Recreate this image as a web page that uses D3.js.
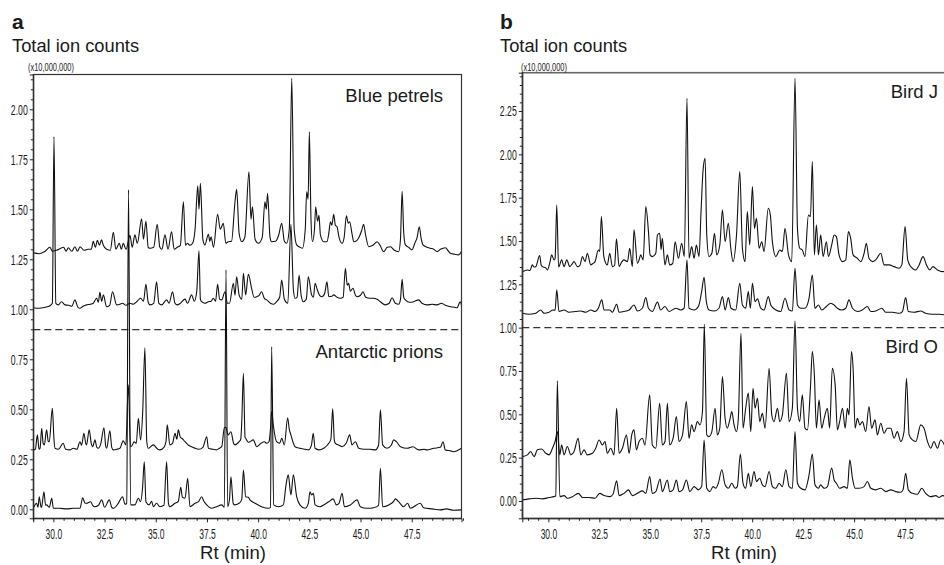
<!DOCTYPE html>
<html>
<head>
<meta charset="utf-8">
<script src="https://cdn.jsdelivr.net/npm/d3@7"></script>
<style>
  html, body { margin: 0; padding: 0; background: #fff; }
  svg { display: block; }
  .lbl { font-family: "Liberation Sans", Arial, sans-serif; fill: #1a1a1a; }
  .tick text { font-family: "Liberation Sans", Arial, sans-serif; font-size: 15px; fill: #1a1a1a; }
</style>
</head>
<body>
<svg id="chart" width="944" height="565"></svg>
<script>
// Retention time (min) / total ion counts (x10,000,000)

const bluePetrelUpper = [[29.02,1.282],[29.3,1.278],[29.6,1.29],[29.83,1.31],[29.95,1.29],[30.15,1.295],[30.5,1.31],[30.62,1.29],[30.73,1.308],[30.9,1.29],[31.05,1.313],[31.18,1.29],[31.3,1.313],[31.5,1.295],[31.7,1.3],[31.85,1.3],[31.95,1.34],[32.05,1.31],[32.15,1.345],[32.25,1.32],[32.35,1.347],[32.44,1.32],[32.6,1.3],[32.78,1.295],[32.93,1.385],[33.05,1.3],[33.22,1.33],[33.32,1.3],[33.41,1.33],[33.55,1.3],[33.74,1.37],[33.85,1.31],[33.98,1.372],[34.1,1.33],[34.31,1.452],[34.4,1.35],[34.52,1.44],[34.63,1.31],[34.72,1.305],[34.9,1.31],[35.07,1.425],[35.2,1.31],[35.3,1.3],[35.45,1.372],[35.6,1.3],[35.77,1.388],[35.9,1.3],[36.05,1.31],[36.2,1.32],[36.35,1.538],[36.45,1.32],[36.55,1.33],[36.67,1.32],[36.8,1.33],[36.92,1.4],[37.05,1.618],[37.11,1.5],[37.18,1.63],[37.3,1.35],[37.4,1.322],[37.57,1.375],[37.64,1.34],[37.7,1.363],[37.82,1.31],[38.02,1.475],[38.15,1.4],[38.3,1.43],[38.42,1.33],[38.54,1.338],[38.7,1.34],[38.87,1.538],[38.95,1.6],[39.07,1.38],[39.2,1.338],[39.35,1.36],[39.55,1.688],[39.65,1.45],[39.72,1.513],[39.85,1.35],[40.01,1.33],[40.2,1.36],[40.33,1.538],[40.4,1.5],[40.46,1.58],[40.58,1.36],[40.66,1.338],[40.85,1.34],[41.0,1.37],[41.15,1.43],[41.28,1.34],[41.39,1.33],[41.52,1.4],[41.64,2.155],[41.76,1.4],[41.88,1.322],[42.05,1.31],[42.16,1.305],[42.3,1.4],[42.37,1.588],[42.44,1.55],[42.5,1.888],[42.58,1.45],[42.65,1.338],[42.75,1.4],[42.81,1.513],[42.9,1.44],[42.97,1.47],[43.04,1.372],[43.2,1.338],[43.36,1.338],[43.45,1.38],[43.53,1.438],[43.6,1.42],[43.69,1.475],[43.77,1.42],[43.85,1.413],[43.95,1.36],[44.1,1.33],[44.2,1.36],[44.31,1.468],[44.4,1.43],[44.47,1.438],[44.58,1.38],[44.67,1.338],[44.83,1.345],[44.99,1.375],[45.07,1.4],[45.15,1.425],[45.25,1.37],[45.4,1.313],[45.6,1.32],[45.81,1.338],[45.95,1.32],[46.13,1.288],[46.3,1.31],[46.46,1.313],[46.65,1.295],[46.86,1.288],[46.95,1.35],[47.03,1.59],[47.11,1.38],[47.19,1.322],[47.35,1.31],[47.51,1.297],[47.65,1.33],[47.76,1.358],[47.87,1.413],[47.95,1.36],[48.05,1.322],[48.25,1.31],[48.41,1.305],[48.57,1.3],[48.74,1.288],[48.9,1.3],[49.14,1.308],[49.3,1.29],[49.39,1.28],[49.6,1.275],[49.79,1.272],[49.93,1.29]]

const bluePetrelLower = [[29.02,1.008],[29.3,1.005],[29.6,1.01],[29.83,1.018],[29.95,1.03],[30.03,1.863],[30.12,1.03],[30.24,1.022],[30.4,1.038],[30.57,1.022],[30.75,1.02],[30.9,1.015],[31.05,1.047],[31.2,1.01],[31.3,1.005],[31.45,1.015],[31.62,1.022],[31.8,1.025],[31.95,1.03],[32.11,1.055],[32.2,1.035],[32.27,1.085],[32.36,1.04],[32.44,1.072],[32.6,1.013],[32.75,1.02],[32.89,1.088],[33.09,1.022],[33.25,1.025],[33.38,1.03],[33.55,1.02],[33.74,1.03],[33.9,1.025],[34.07,1.038],[34.26,1.055],[34.4,1.04],[34.52,1.125],[34.63,1.035],[34.72,1.022],[34.9,1.03],[35.04,1.138],[35.15,1.03],[35.29,1.022],[35.53,1.047],[35.65,1.03],[35.82,1.088],[35.94,1.03],[36.05,1.022],[36.2,1.03],[36.43,1.051],[36.55,1.03],[36.75,1.072],[36.88,1.04],[37.0,1.088],[37.11,1.292],[37.18,1.05],[37.24,1.038],[37.4,1.03],[37.57,1.038],[37.7,1.04],[37.81,1.055],[37.92,1.04],[38.02,1.125],[38.12,1.05],[38.22,1.047],[38.38,1.088],[38.5,1.03],[38.6,1.03],[38.79,1.13],[38.87,1.07],[38.95,1.163],[39.07,1.072],[39.2,1.05],[39.28,1.18],[39.39,1.072],[39.52,1.175],[39.68,1.105],[39.8,1.06],[39.93,1.063],[40.05,1.07],[40.17,1.088],[40.3,1.055],[40.42,1.047],[40.6,1.03],[40.76,1.025],[40.9,1.038],[41.05,1.06],[41.15,1.146],[41.28,1.05],[41.45,1.03],[41.6,1.425],[41.72,1.1],[41.8,1.055],[41.9,1.06],[42.0,1.17],[42.1,1.07],[42.21,1.038],[42.35,1.05],[42.45,1.163],[42.61,1.072],[42.7,1.06],[42.78,1.13],[42.88,1.1],[43.0,1.07],[43.12,1.063],[43.25,1.08],[43.36,1.138],[43.45,1.063],[43.6,1.065],[43.69,1.072],[43.85,1.06],[44.02,1.055],[44.15,1.06],[44.26,1.205],[44.35,1.12],[44.42,1.13],[44.5,1.09],[44.63,1.105],[44.75,1.07],[44.83,1.063],[45.0,1.07],[45.12,1.088],[45.25,1.06],[45.45,1.055],[45.64,1.055],[45.8,1.05],[45.97,1.038],[46.2,1.022],[46.4,1.03],[46.54,1.058],[46.7,1.03],[46.86,1.025],[46.95,1.05],[47.03,1.15],[47.11,1.06],[47.19,1.047],[47.4,1.035],[47.6,1.038],[47.84,1.047],[48.0,1.03],[48.25,1.022],[48.5,1.025],[48.74,1.022],[48.95,1.03],[49.14,1.02],[49.39,1.013],[49.6,1.01],[49.71,1.008],[49.87,1.038],[49.93,1.02]]

const prionUpper = [[29.02,0.297],[29.12,0.3],[29.22,0.372],[29.3,0.3],[29.35,0.305],[29.43,0.405],[29.5,0.33],[29.56,0.322],[29.67,0.397],[29.75,0.34],[29.8,0.338],[29.95,0.505],[30.03,0.35],[30.08,0.305],[30.25,0.3],[30.48,0.33],[30.6,0.3],[30.8,0.297],[30.97,0.305],[31.15,0.3],[31.3,0.338],[31.38,0.32],[31.49,0.38],[31.58,0.33],[31.62,0.322],[31.75,0.397],[31.85,0.33],[31.92,0.313],[32.03,0.347],[32.12,0.31],[32.19,0.305],[32.32,0.33],[32.47,0.408],[32.55,0.32],[32.6,0.305],[32.76,0.392],[32.85,0.31],[32.93,0.297],[33.09,0.3],[33.25,0.305],[33.41,0.342],[33.54,0.322],[33.66,0.622],[33.77,0.313],[33.85,0.32],[33.94,0.338],[34.05,0.33],[34.15,0.455],[34.26,0.347],[34.36,0.48],[34.47,0.808],[34.56,0.34],[34.63,0.305],[34.88,0.322],[35.1,0.3],[35.2,0.297],[35.4,0.31],[35.5,0.338],[35.56,0.422],[35.69,0.322],[35.82,0.33],[35.94,0.38],[36.03,0.35],[36.1,0.397],[36.2,0.36],[36.27,0.355],[36.43,0.338],[36.6,0.32],[36.75,0.313],[36.92,0.305],[37.1,0.3],[37.3,0.31],[37.49,0.363],[37.57,0.305],[37.8,0.3],[37.97,0.297],[38.1,0.305],[38.22,0.313],[38.35,0.408],[38.43,0.41],[38.5,0.38],[38.54,0.372],[38.67,0.388],[38.8,0.33],[38.87,0.322],[39.07,0.338],[39.15,0.35],[39.2,0.438],[39.28,0.68],[39.36,0.36],[39.39,0.355],[39.52,0.335],[39.6,0.338],[39.76,0.347],[39.93,0.313],[40.14,0.33],[40.3,0.338],[40.42,0.33],[40.53,0.338],[40.6,0.4],[40.66,0.49],[40.74,0.42],[40.9,0.338],[41.05,0.33],[41.15,0.355],[41.28,0.322],[41.44,0.458],[41.52,0.4],[41.6,0.372],[41.72,0.33],[41.8,0.313],[42.04,0.305],[42.3,0.3],[42.45,0.297],[42.6,0.32],[42.69,0.38],[42.78,0.305],[42.97,0.297],[43.2,0.305],[43.45,0.33],[43.55,0.35],[43.64,0.502],[43.72,0.345],[43.77,0.33],[43.95,0.32],[44.1,0.313],[44.3,0.33],[44.47,0.372],[44.58,0.322],[44.75,0.338],[44.91,0.305],[45.2,0.3],[45.45,0.3],[45.72,0.297],[45.88,0.32],[45.97,0.497],[46.08,0.322],[46.29,0.305],[46.5,0.32],[46.62,0.347],[46.75,0.338],[46.95,0.313],[47.27,0.305],[47.56,0.313],[47.84,0.297],[48.1,0.3],[48.25,0.297],[48.57,0.305],[48.9,0.31],[49.03,0.338],[49.14,0.297],[49.4,0.292],[49.55,0.288],[49.75,0.295],[49.93,0.305]]

const prionLower = [[29.02,0.005],[29.18,0.03],[29.25,0.01],[29.31,0.063],[29.4,0.01],[29.43,0.013],[29.54,0.088],[29.62,0.02],[29.67,0.022],[29.8,0.01],[29.92,0.055],[30.0,0.005],[30.3,0.005],[30.65,0.002],[30.97,0.005],[31.3,0.005],[31.43,0.058],[31.55,0.03],[31.62,0.03],[31.82,0.038],[31.92,0.02],[32.03,0.013],[32.2,0.02],[32.36,0.047],[32.5,0.01],[32.73,0.047],[32.85,0.01],[32.93,0.005],[33.17,0.03],[33.38,0.063],[33.5,0.025],[33.58,0.03],[33.67,1.597],[33.77,0.022],[33.98,0.022],[34.15,0.055],[34.26,0.038],[34.35,0.1],[34.44,0.238],[34.52,0.038],[34.68,0.022],[34.8,0.04],[34.88,0.013],[35.04,0.03],[35.2,0.013],[35.4,0.02],[35.53,0.238],[35.62,0.03],[35.69,0.013],[35.94,0.03],[36.1,0.04],[36.22,0.11],[36.3,0.06],[36.43,0.055],[36.56,0.155],[36.67,0.013],[36.92,0.03],[37.1,0.04],[37.24,0.063],[37.35,0.04],[37.49,0.022],[37.73,0.005],[37.97,0.013],[38.22,0.022],[38.35,0.01],[38.43,1.197],[38.51,0.013],[38.6,0.05],[38.67,0.163],[38.78,0.03],[38.84,0.022],[39.07,0.03],[39.2,0.05],[39.28,0.196],[39.39,0.063],[39.52,0.06],[39.6,0.047],[39.85,0.03],[40.17,0.013],[40.5,0.005],[40.6,0.01],[40.66,0.813],[40.76,0.022],[40.99,0.013],[41.23,0.022],[41.36,0.121],[41.47,0.172],[41.6,0.072],[41.72,0.172],[41.88,0.063],[42.04,0.022],[42.29,0.005],[42.45,0.03],[42.53,0.088],[42.61,0.072],[42.7,0.08],[42.78,0.022],[43.02,0.013],[43.2,0.022],[43.45,0.038],[43.66,0.052],[43.82,0.022],[43.95,0.03],[44.1,0.08],[44.21,0.013],[44.5,0.022],[44.83,0.047],[44.99,0.013],[45.32,0.005],[45.64,0.008],[45.88,0.02],[45.97,0.205],[46.08,0.013],[46.38,0.022],[46.62,0.04],[46.7,0.052],[46.86,0.038],[47.1,0.013],[47.3,0.03],[47.43,0.005],[47.92,0.03],[48.08,0.008],[48.5,0.002],[48.9,-0.003],[49.2,0.002],[49.55,-0.005],[49.93,-0.003]]

const birdJUpper = [[28.72,1.323],[28.97,1.333],[29.1,1.33],[29.21,1.362],[29.3,1.35],[29.38,1.352],[29.57,1.416],[29.65,1.36],[29.71,1.352],[29.87,1.345],[29.95,1.333],[30.08,1.38],[30.16,1.42],[30.28,1.39],[30.33,1.4],[30.41,1.708],[30.5,1.35],[30.52,1.352],[30.65,1.391],[30.77,1.352],[30.9,1.391],[31.05,1.352],[31.18,1.37],[31.26,1.381],[31.42,1.352],[31.55,1.36],[31.67,1.41],[31.8,1.381],[31.91,1.429],[32.08,1.362],[32.18,1.37],[32.29,1.381],[32.45,1.448],[32.52,1.44],[32.6,1.641],[32.72,1.41],[32.89,1.362],[33.01,1.429],[33.14,1.352],[33.25,1.36],[33.34,1.512],[33.47,1.352],[33.6,1.38],[33.71,1.391],[33.88,1.381],[33.99,1.458],[34.12,1.352],[34.2,1.564],[34.37,1.371],[34.45,1.39],[34.53,1.42],[34.65,1.391],[34.78,1.698],[34.91,1.554],[34.99,1.42],[35.1,1.41],[35.27,1.429],[35.35,1.535],[35.46,1.545],[35.53,1.45],[35.59,1.516],[35.72,1.362],[35.84,1.42],[35.95,1.362],[36.1,1.37],[36.22,1.496],[36.38,1.4],[36.54,1.487],[36.67,1.41],[36.8,2.323],[36.9,1.4],[37.03,1.468],[37.15,1.4],[37.26,1.477],[37.39,1.41],[37.49,1.67],[37.59,1.91],[37.69,1.977],[37.77,1.535],[37.88,1.41],[38.02,1.429],[38.15,1.545],[38.26,1.42],[38.41,1.477],[38.54,1.679],[38.67,1.496],[38.83,1.602],[38.95,1.458],[39.06,1.381],[39.23,1.535],[39.39,1.9],[39.52,1.458],[39.65,1.381],[39.76,1.67],[39.88,1.477],[40.01,1.814],[40.11,1.573],[40.21,1.631],[40.34,1.458],[40.47,1.496],[40.58,1.439],[40.79,1.689],[40.89,1.65],[40.99,1.496],[41.16,1.41],[41.35,1.448],[41.48,1.439],[41.61,1.573],[41.78,1.42],[41.94,1.381],[42.1,2.439],[42.22,1.573],[42.33,1.458],[42.46,1.448],[42.59,1.41],[42.76,1.65],[42.86,1.641],[42.95,1.958],[43.05,1.42],[43.15,1.593],[43.25,1.42],[43.36,1.535],[43.48,1.41],[43.64,1.496],[43.74,1.41],[43.9,1.477],[44.02,1.535],[44.13,1.525],[44.26,1.42],[44.43,1.381],[44.59,1.391],[44.72,1.554],[44.83,1.516],[44.95,1.42],[45.16,1.4],[45.33,1.381],[45.49,1.429],[45.6,1.487],[45.73,1.4],[45.9,1.381],[46.06,1.391],[46.31,1.429],[46.47,1.362],[46.72,1.362],[46.96,1.352],[47.21,1.343],[47.34,1.362],[47.5,1.583],[47.63,1.391],[47.78,1.352],[48.03,1.333],[48.19,1.362],[48.38,1.41],[48.55,1.362],[48.71,1.333],[48.87,1.352],[49.09,1.333],[49.33,1.323],[49.5,1.327]]

const birdJLower = [[28.72,1.083],[29.05,1.077],[29.38,1.083],[29.62,1.102],[29.79,1.083],[30.03,1.089],[30.23,1.102],[30.33,1.1],[30.41,1.218],[30.52,1.093],[30.77,1.102],[31.01,1.089],[31.34,1.093],[31.59,1.096],[31.83,1.089],[32.08,1.102],[32.29,1.093],[32.45,1.112],[32.62,1.16],[32.73,1.102],[33.01,1.102],[33.14,1.089],[33.35,1.135],[33.47,1.089],[33.71,1.093],[33.96,1.102],[34.2,1.131],[34.37,1.096],[34.61,1.112],[34.78,1.173],[34.91,1.112],[35.1,1.093],[35.35,1.147],[35.51,1.102],[35.72,1.122],[35.92,1.093],[36.25,1.112],[36.49,1.102],[36.66,1.112],[36.8,1.391],[36.9,1.112],[37.15,1.102],[37.36,1.122],[37.52,1.208],[37.64,1.291],[37.75,1.15],[37.88,1.102],[38.13,1.096],[38.37,1.112],[38.54,1.179],[38.67,1.102],[38.83,1.173],[38.96,1.112],[39.19,1.102],[39.39,1.256],[39.52,1.131],[39.68,1.112],[39.81,1.208],[39.91,1.112],[40.01,1.256],[40.14,1.15],[40.26,1.166],[40.42,1.112],[40.58,1.102],[40.79,1.179],[40.91,1.131],[41.16,1.102],[41.4,1.093],[41.61,1.17],[41.81,1.102],[41.97,1.096],[42.1,1.343],[42.22,1.131],[42.38,1.112],[42.59,1.112],[42.79,1.17],[42.95,1.304],[43.08,1.112],[43.25,1.131],[43.41,1.102],[43.64,1.122],[43.85,1.141],[44.02,1.131],[44.18,1.112],[44.39,1.102],[44.59,1.112],[44.75,1.16],[44.92,1.112],[45.16,1.093],[45.4,1.102],[45.65,1.122],[45.82,1.093],[46.06,1.096],[46.36,1.112],[46.55,1.089],[46.88,1.089],[47.21,1.083],[47.37,1.093],[47.53,1.173],[47.66,1.093],[47.94,1.089],[48.27,1.096],[48.51,1.083],[48.84,1.077],[49.17,1.077],[49.5,1.073]]

const birdOUpper = [[28.72,0.256],[28.97,0.266],[29.13,0.285],[29.3,0.256],[29.46,0.295],[29.67,0.3],[29.87,0.275],[30.03,0.266],[30.2,0.304],[30.33,0.343],[30.44,0.4],[30.56,0.266],[30.65,0.323],[30.77,0.266],[30.93,0.314],[31.1,0.266],[31.26,0.285],[31.46,0.362],[31.59,0.266],[31.75,0.295],[31.91,0.266],[32.16,0.275],[32.32,0.304],[32.49,0.352],[32.65,0.323],[32.78,0.343],[32.89,0.275],[33.06,0.304],[33.22,0.266],[33.35,0.535],[33.47,0.275],[33.63,0.304],[33.83,0.381],[33.96,0.275],[34.09,0.381],[34.2,0.41],[34.32,0.295],[34.45,0.343],[34.61,0.362],[34.74,0.323],[34.97,0.612],[35.1,0.323],[35.27,0.304],[35.46,0.564],[35.59,0.323],[35.72,0.343],[35.84,0.564],[35.95,0.323],[36.12,0.362],[36.28,0.487],[36.41,0.343],[36.58,0.381],[36.77,0.573],[36.9,0.362],[37.03,0.439],[37.15,0.4],[37.31,0.458],[37.44,0.439],[37.56,0.516],[37.65,1.02],[37.77,0.381],[37.88,0.371],[38.02,0.4],[38.18,0.535],[38.29,0.381],[38.41,0.42],[38.54,0.718],[38.67,0.477],[38.78,0.42],[38.9,0.468],[39.0,0.516],[39.11,0.439],[39.23,0.4],[39.32,0.477],[39.45,0.968],[39.55,0.42],[39.68,0.535],[39.81,0.622],[39.93,0.4],[40.04,0.65],[40.14,0.535],[40.26,0.593],[40.37,0.458],[40.5,0.506],[40.63,0.42],[40.83,0.766],[40.96,0.496],[41.07,0.458],[41.24,0.535],[41.35,0.458],[41.48,0.496],[41.68,0.737],[41.81,0.458],[41.97,0.535],[42.1,1.04],[42.22,0.535],[42.33,0.458],[42.46,0.612],[42.59,0.42],[42.71,0.41],[42.86,0.66],[42.95,0.862],[43.05,0.727],[43.15,0.42],[43.28,0.583],[43.41,0.42],[43.53,0.477],[43.69,0.535],[43.8,0.42],[43.93,0.766],[44.07,0.67],[44.18,0.41],[44.29,0.458],[44.43,0.535],[44.56,0.42],[44.67,0.535],[44.75,0.496],[44.87,0.862],[44.95,0.766],[45.05,0.42],[45.16,0.477],[45.28,0.439],[45.41,0.458],[45.57,0.4],[45.73,0.545],[45.86,0.42],[46.03,0.468],[46.14,0.381],[46.31,0.448],[46.47,0.391],[46.63,0.42],[46.8,0.42],[46.96,0.362],[47.12,0.4],[47.29,0.343],[47.45,0.4],[47.57,0.708],[47.7,0.381],[47.86,0.352],[48.03,0.343],[48.27,0.439],[48.43,0.42],[48.6,0.343],[48.76,0.304],[48.92,0.343],[49.09,0.304],[49.25,0.352],[49.5,0.304]]

const birdOLower = [[28.72,0.006],[29.05,0.012],[29.38,0.016],[29.71,0.012],[30.03,0.02],[30.28,0.025],[30.36,0.03],[30.44,0.693],[30.56,0.025],[30.77,0.031],[30.93,0.016],[31.18,0.025],[31.47,0.044],[31.67,0.02],[32.0,0.02],[32.29,0.016],[32.52,0.044],[32.73,0.031],[33.01,0.025],[33.17,0.039],[33.35,0.116],[33.47,0.031],[33.71,0.044],[33.93,0.064],[34.12,0.031],[34.37,0.044],[34.61,0.058],[34.78,0.044],[34.97,0.141],[35.1,0.044],[35.27,0.054],[35.48,0.127],[35.59,0.054],[35.84,0.121],[35.95,0.054],[36.12,0.064],[36.28,0.121],[36.41,0.054],[36.58,0.064],[36.77,0.121],[36.94,0.054],[37.15,0.083],[37.36,0.064],[37.52,0.083],[37.64,0.352],[37.77,0.073],[37.92,0.054],[38.08,0.083],[38.21,0.073],[38.34,0.102],[38.51,0.18],[38.67,0.093],[38.83,0.073],[39.0,0.102],[39.16,0.073],[39.27,0.083],[39.42,0.27],[39.55,0.102],[39.68,0.073],[39.81,0.16],[39.93,0.083],[40.09,0.17],[40.21,0.112],[40.37,0.131],[40.5,0.093],[40.63,0.083],[40.83,0.17],[40.99,0.083],[41.16,0.073],[41.32,0.102],[41.48,0.083],[41.65,0.18],[41.81,0.083],[41.97,0.073],[42.1,0.40],[42.22,0.102],[42.38,0.073],[42.59,0.064],[42.79,0.15],[42.95,0.27],[43.08,0.093],[43.25,0.073],[43.36,0.093],[43.53,0.073],[43.69,0.083],[43.9,0.19],[44.02,0.121],[44.13,0.102],[44.29,0.073],[44.51,0.083],[44.67,0.073],[44.79,0.237],[44.92,0.131],[45.05,0.073],[45.24,0.073],[45.49,0.083],[45.65,0.112],[45.82,0.073],[46.06,0.064],[46.31,0.073],[46.55,0.054],[46.8,0.064],[47.04,0.054],[47.29,0.05],[47.4,0.064],[47.53,0.16],[47.66,0.064],[47.86,0.044],[48.11,0.039],[48.32,0.073],[48.51,0.044],[48.76,0.025],[49.01,0.031],[49.17,0.02],[49.33,0.031],[49.5,0.025]]

const rtTicks = [30, 32.5, 35, 37.5, 40, 42.5, 45, 47.5]
const ticTicksA = [0, 0.25, 0.5, 0.75, 1.0, 1.25, 1.5, 1.75, 2.0]
const ticTicksB = [0, 0.25, 0.5, 0.75, 1.0, 1.25, 1.5, 1.75, 2.0, 2.25]
const panelLetters = ['a', 'b']
const groupNames = [['Blue petrels', 'Antarctic prions'], ['Bird J', 'Bird O']]
const dividerLevels = [0.898, 1.0]

const svg = d3.select('#chart')

const panels = [
  {
    letter: panelLetters[0], names: groupNames[0], divider: dividerLevels[0], yTicks: ticTicksA,
    traces: [bluePetrelUpper, bluePetrelLower, prionUpper, prionLower],
    x: d3.scaleLinear().domain([29.02, 49.93]).range([33.3, 461.5]),
    y: d3.scaleLinear().domain([-0.045, 2.174]).range([518.3, 74.5]),
    textX: 12, unitX: 28, nameRight: 443, titleX: 233
  },
  {
    letter: panelLetters[1], names: groupNames[1], divider: dividerLevels[1], yTicks: ticTicksB,
    traces: [birdJUpper, birdJLower, birdOUpper, birdOLower],
    x: d3.scaleLinear().domain([28.72, 49.7]).range([522.3, 949.9]),
    y: d3.scaleLinear().domain([-0.1, 2.471]).range([518.3, 72.7]),
    textX: 500, unitX: 521, nameRight: 938, titleX: 744
  }
]

// the condensed axis lettering of the original, squeezed from a regular face
function narrow (sel, w) {
  sel.selectAll('.tick text').attr('textLength', w).attr('lengthAdjust', 'spacingAndGlyphs')
}

panels.forEach((p, i) => {
  const [x0, x1] = p.x.range()
  const [yb, yt] = p.y.range()
  const g = svg.append('g')

  const clipId = 'clip' + i
  svg.append('clipPath').attr('id', clipId)
    .append('rect').attr('x', x0).attr('y', yt).attr('width', x1 - x0).attr('height', yb - yt)

  const line = d3.line().x(d => p.x(d[0])).y(d => p.y(d[1])).curve(d3.curveMonotoneX)

  const plot = g.append('g').attr('clip-path', `url(#${clipId})`)
  plot.append('line')
    .attr('x1', x0).attr('x2', x1)
    .attr('y1', p.y(p.divider)).attr('y2', p.y(p.divider))
    .attr('stroke', '#333').attr('stroke-width', 1.2).attr('stroke-dasharray', '7,4')

  plot.selectAll('path.trace').data(p.traces).join('path')
    .attr('class', 'trace')
    .attr('d', line)
    .attr('fill', 'none')
    .attr('stroke', '#111')
    .attr('stroke-width', 1.1)
    .attr('stroke-linejoin', 'round')

  // frame
  g.append('rect')
    .attr('x', x0).attr('y', yt).attr('width', x1 - x0).attr('height', yb - yt)
    .attr('fill', 'none').attr('stroke', i === 0 ? '#333' : '#666').attr('stroke-width', i === 0 ? 1.2 : 1.6)

  // x axis, majors + minors every 0.5 min
  const xMinor = d3.range(29, 50.01, 0.5).filter(v => rtTicks.indexOf(v) < 0)
  g.append('g').attr('transform', `translate(0,${yb})`)
    .call(d3.axisBottom(p.x).tickValues(xMinor).tickSize(2.5).tickFormat(''))
    .call(a => a.select('.domain').remove())
  g.append('g').attr('transform', `translate(0,${yb})`)
    .call(d3.axisBottom(p.x).tickValues(rtTicks).tickSize(4).tickPadding(6.5).tickFormat(d3.format('.1f')))
    .call(a => a.select('.domain').attr('stroke', '#222'))
    .call(narrow, 16.5)

  // y axis, majors + minors every 0.05
  const yMinor = d3.range(-0.05, p.y.domain()[1], 0.05).map(v => +v.toFixed(2))
    .filter(v => v >= p.y.domain()[0] && p.yTicks.indexOf(v) < 0)
  g.append('g').attr('transform', `translate(${x0},0)`)
    .call(d3.axisLeft(p.y).tickValues(yMinor).tickSize(2.5).tickFormat(''))
    .call(a => a.select('.domain').remove())
  g.append('g').attr('transform', `translate(${x0},0)`)
    .call(d3.axisLeft(p.y).tickValues(p.yTicks).tickSize(3.5).tickPadding(2).tickFormat(d3.format('.2f')))
    .call(a => a.select('.domain').attr('stroke', '#222'))
    .call(narrow, 17)

  g.selectAll('.tick line').attr('stroke', '#222')

  // labels
  g.append('text').attr('class', 'lbl').attr('x', p.textX).attr('y', 29)
    .style('font-size', '21px').style('font-weight', 'bold').text(p.letter)
  g.append('text').attr('class', 'lbl').attr('x', p.textX).attr('y', 52)
    .style('font-size', '18.3px').text('Total ion counts')
  g.append('text').attr('class', 'lbl').attr('x', p.unitX).attr('y', 70.5)
    .attr('textLength', 46).attr('lengthAdjust', 'spacingAndGlyphs')
    .style('font-size', '11.5px').text('(x10,000,000)')
  g.append('text').attr('class', 'lbl').attr('x', p.nameRight).attr('y', i === 0 ? 101.5 : 98)
    .attr('text-anchor', 'end').style('font-size', '18.5px').text(p.names[0])
  g.append('text').attr('class', 'lbl').attr('x', p.nameRight).attr('y', i === 0 ? 358 : 353)
    .attr('text-anchor', 'end').style('font-size', '18.5px').text(p.names[1])
  g.append('text').attr('class', 'lbl').attr('x', p.titleX).attr('y', 559)
    .attr('text-anchor', 'middle').style('font-size', '18.5px').text('Rt (min)')
})
</script>
</body>
</html>
